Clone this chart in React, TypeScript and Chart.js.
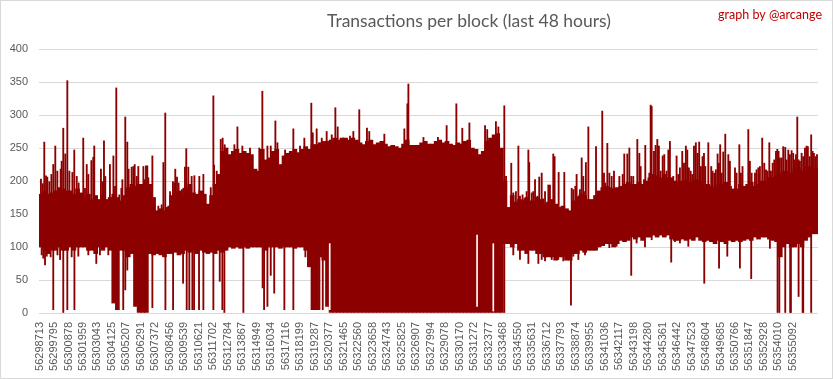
import React, { useEffect, useRef } from 'react';
import { Chart, registerables } from 'chart.js';

Chart.register(...registerables);

const TITLE = 'Transactions per block (last 48 hours)';
const CREDIT = 'graph by @arcange';

const TICK_LABELS = [
  '56298713', '56299795', '56300878', '56301959', '56303043', '56304125', '56305207', '56306291',
  '56307372', '56308456', '56309539', '56310621', '56311702', '56312784', '56313867', '56314949',
  '56316034', '56317116', '56318199', '56319287', '56320377', '56321465', '56322560', '56323658',
  '56324743', '56325825', '56326907', '56327994', '56329078', '56330170', '56331272', '56332377',
  '56333468', '56334550', '56335631', '56336712', '56337793', '56338874', '56339955', '56341036',
  '56342117', '56343198', '56344280', '56345361', '56346442', '56347523', '56348604', '56349685',
  '56350766', '56351847', '56352928', '56354010', '56355092',
];

// Four samples per labelled interval: top and bottom of the dense core of values
const SAMPLES_PER_LABEL = 4;
const BAND_HI = [
  180, 185, 180, 182, 185, 190, 188, 185, 185, 180, 188, 182, 175, 180, 172, 178,
  172, 178, 172, 175, 180, 175, 170, 178, 190, 195, 192, 195, 195, 198, 195, 175,
  155, 158, 155, 160, 178, 182, 185, 178, 190, 195, 182, 180, 185, 180, 165, 178,
  195, 210, 245, 250, 240, 245, 248, 242, 245, 242, 240, 218, 215, 248, 232, 235,
  245, 248, 225, 238, 242, 245, 248, 243, 248, 252, 248, 255, 255, 258, 260, 260,
  262, 265, 262, 265, 265, 262, 265, 262, 258, 255, 260, 262, 255, 258, 260, 256,
  252, 254, 252, 250, 256, 262, 254, 254, 254, 258, 260, 256, 256, 260, 262, 258,
  260, 256, 254, 258, 256, 260, 262, 250, 248, 240, 245, 260, 265, 270, 272, 250,
  200, 160, 178, 168, 172, 170, 175, 170, 170, 175, 172, 165, 168, 172, 165, 160,
  162, 158, 155, 170, 175, 180, 178, 172, 172, 178, 185, 190, 192, 190, 188, 190,
  192, 195, 198, 195, 195, 198, 195, 200, 205, 210, 208, 205, 210, 205, 205, 200,
  198, 200, 200, 198, 200, 202, 198, 192, 195, 192, 190, 195, 195, 198, 192, 188,
  188, 195, 192, 195, 198, 192, 195, 200, 200, 205, 205, 210, 212, 215, 215, 212,
  218, 220, 215, 222, 222, 218, 220,
];
const BAND_LO = [
  100, 95, 90, 95, 95, 100, 95, 95, 100, 95, 100, 100, 100, 95, 95, 90,
  100, 95, 100, 95, 15, 5, 95, 95, 85, 90, 10, 0, 0, 0, 90, 88,
  90, 88, 85, 90, 90, 92, 88, 90, 95, 92, 95, 90, 95, 92, 90, 92,
  90, 95, 92, 95, 100, 98, 100, 98, 100, 98, 100, 100, 100, 100, 95, 100,
  100, 100, 98, 100, 100, 100, 98, 100, 100, 95, 70, 5, 5, 85, 80, 10,
  0, 0, 0, 0, 0, 0, 0, 0, 0, 0, 0, 0, 0, 0, 0, 0,
  0, 0, 0, 0, 0, 0, 0, 0, 0, 0, 0, 0, 0, 0, 0, 0,
  0, 0, 0, 0, 0, 0, 0, 0, 0, 0, 0, 0, 0, 0, 0, 0,
  105, 105, 100, 105, 95, 95, 90, 95, 95, 90, 90, 85, 85, 85, 80, 85,
  85, 80, 80, 90, 90, 95, 92, 95, 95, 95, 100, 102, 105, 105, 100, 105,
  110, 108, 110, 115, 112, 115, 110, 115, 115, 118, 115, 118, 115, 118, 112, 110,
  110, 112, 110, 112, 110, 115, 110, 108, 110, 108, 105, 110, 108, 105, 110, 108,
  110, 108, 110, 112, 110, 115, 112, 115, 115, 112, 110, 108, 85, 100, 105, 100,
  100, 105, 100, 110, 115, 120, 120,
];

// Single blocks above the core: [position in label intervals, transactions]
const PEAKS: [number, number][] = [
  [0.10, 203], [0.22, 196], [0.33, 259], [0.45, 208], [0.54, 206], [0.68, 199], [0.82, 210], [0.95, 225],
  [1.09, 253], [1.23, 215], [1.46, 218], [1.53, 230], [1.64, 280], [1.78, 241], [1.92, 352], [2.06, 215],
  [2.27, 213], [2.40, 247], [2.57, 207], [2.70, 197], [3.02, 265], [3.14, 189], [3.26, 225], [3.37, 210],
  [3.58, 231], [3.71, 236], [3.78, 253], [4.24, 218], [4.36, 199], [4.45, 261], [4.54, 207], [4.86, 225],
  [5.10, 238], [5.21, 192], [5.30, 341], [5.51, 179], [5.65, 189], [5.72, 202], [5.92, 297], [6.06, 259],
  [6.15, 218], [6.36, 221], [6.48, 222], [6.57, 225], [6.71, 207], [6.82, 222], [7.17, 222], [7.28, 202],
  [7.35, 223], [7.44, 223], [7.51, 205], [7.79, 238], [7.90, 168], [8.20, 162], [8.43, 164], [8.55, 228],
  [8.68, 303], [8.89, 162], [9.01, 184], [9.21, 199], [9.31, 197], [9.37, 218], [9.49, 206], [9.60, 197],
  [9.83, 187], [9.93, 189], [10.04, 221], [10.13, 249], [10.27, 221], [10.39, 189], [10.50, 207], [10.62, 177],
  [10.69, 208], [11.03, 207], [11.31, 210], [11.82, 190], [12.00, 329], [12.05, 224], [12.23, 215], [12.51, 263],
  [12.64, 265], [12.78, 255], [13.45, 255], [13.66, 282], [14.00, 253], [14.53, 250], [15.17, 250], [15.38, 336],
  [15.73, 253], [15.96, 253], [16.28, 291], [16.42, 258], [16.95, 247], [17.52, 279], [17.98, 253], [18.28, 265],
  [18.76, 318], [18.86, 273], [19.13, 279], [19.48, 265], [19.82, 275], [20.17, 270], [20.42, 311], [20.58, 282],
  [20.93, 265], [21.43, 268], [21.66, 275], [22.07, 308], [22.60, 280], [22.76, 275], [23.80, 271], [25.18, 279],
  [25.39, 317], [25.46, 347], [26.50, 266], [27.50, 266], [28.10, 284], [28.77, 317], [29.18, 280], [29.67, 288],
  [30.75, 284], [30.90, 278], [31.50, 290], [31.67, 282], [32.08, 314], [32.20, 207], [32.56, 227], [32.70, 182],
  [32.88, 184], [33.05, 253], [33.16, 177], [33.34, 179], [33.46, 173], [33.62, 184], [33.74, 247], [33.80, 228],
  [33.97, 182], [34.08, 184], [34.20, 202], [34.36, 177], [34.49, 206], [34.66, 212], [34.77, 173], [34.89, 184],
  [35.12, 194], [35.23, 194], [35.46, 241], [35.55, 237], [35.83, 213], [36.22, 213], [36.73, 189], [36.84, 187],
  [36.98, 192], [37.07, 210], [37.19, 177], [37.30, 187], [37.42, 235], [37.53, 207], [37.65, 184], [37.71, 228],
  [37.88, 282], [38.41, 252], [38.50, 177], [38.84, 306], [38.96, 212], [39.05, 197], [39.19, 257], [39.33, 212],
  [39.49, 207], [39.65, 215], [39.88, 189], [40.02, 207], [40.25, 210], [40.36, 241], [40.57, 241], [40.71, 250],
  [40.84, 207], [40.98, 207], [41.26, 263], [41.40, 242], [41.49, 222], [41.72, 202], [41.81, 254], [42.09, 212],
  [42.18, 315], [42.25, 313], [42.41, 245], [42.52, 254], [42.64, 263], [42.75, 253], [42.87, 215], [43.01, 238],
  [43.12, 240], [43.28, 215], [43.40, 247], [43.51, 260], [43.74, 207], [43.97, 238], [44.09, 210], [44.20, 220],
  [44.36, 245], [44.48, 227], [44.61, 253], [44.71, 247], [44.82, 220], [44.94, 215], [45.05, 210], [45.17, 253],
  [45.30, 258], [45.42, 242], [45.53, 259], [45.65, 222], [45.76, 237], [45.86, 242], [45.95, 222], [46.16, 258],
  [46.36, 222], [46.45, 215], [46.57, 212], [46.68, 217], [46.80, 241], [46.89, 227], [46.98, 255], [47.08, 212],
  [47.19, 244], [47.33, 271], [47.54, 240], [47.65, 230], [48.00, 220], [48.11, 212], [48.30, 255], [48.41, 212],
  [48.52, 222], [48.92, 278], [49.03, 230], [49.15, 212], [49.38, 212], [49.49, 217], [49.61, 220], [49.72, 222],
  [49.88, 265], [50.02, 227], [50.14, 217], [50.25, 215], [50.37, 258], [50.48, 215], [50.60, 227], [50.71, 232],
  [50.83, 245], [50.92, 248], [51.01, 245], [51.10, 235], [51.22, 235], [51.33, 252], [51.47, 251], [51.56, 232],
  [51.68, 247], [51.79, 240], [51.91, 246], [52.02, 242], [52.11, 232], [52.21, 240], [52.30, 297], [52.39, 232],
  [52.48, 230], [52.60, 242], [52.71, 237], [52.83, 250], [52.94, 253], [53.03, 252], [53.15, 237], [53.26, 270],
  [53.36, 245], [53.45, 242], [53.56, 237], [53.66, 240],
];

// Single blocks below the core: [position in label intervals, transactions]
const DIPS: [number, number][] = [
  [0.15, 88], [0.26, 83], [0.38, 73], [0.50, 86], [0.77, 85], [0.95, 5], [1.24, 88], [1.42, 81],
  [1.64, 0], [1.92, 5], [2.22, 85], [2.41, 5], [2.68, 86], [3.37, 88], [3.92, 75], [4.17, 88],
  [4.75, 88], [5.78, 5], [5.92, 35], [6.06, 65], [7.79, 8], [8.69, 5], [9.22, 5], [9.91, 45],
  [10.16, 5], [10.34, 5], [10.55, 5], [10.67, 5], [11.01, 5], [11.31, 5], [12.00, 5], [12.44, 48],
  [12.62, 5], [12.76, 0], [14.07, 0], [15.40, 38], [15.50, 5], [15.73, 10], [15.96, 57], [16.20, 30],
  [16.90, 5], [17.52, 5], [18.35, 85], [19.32, 5], [19.55, 5], [32.08, 0], [32.70, 88], [33.16, 81],
  [33.74, 75], [34.43, 75], [34.66, 81], [34.89, 79], [35.35, 81], [35.80, 81], [36.15, 79], [36.68, 12],
  [36.84, 86], [37.19, 81], [37.65, 88], [38.45, 96], [39.33, 99], [39.83, 101], [40.84, 57], [41.21, 106],
  [41.79, 100], [42.25, 111], [43.60, 77], [43.86, 108], [44.20, 106], [44.78, 101], [45.88, 45], [46.27, 111],
  [46.90, 68], [47.47, 86], [48.34, 68], [49.12, 52], [50.41, 98], [50.94, 0], [50.97, 88], [51.06, 0],
  [51.10, 88], [51.47, 0], [51.81, 0], [51.86, 0], [52.39, 25], [52.67, 0], [52.71, 0], [53.26, 0],
];

// Narrow empty slivers inside the dense band: [position, from, to]
const GAPS: [number, number, number][] = [
  [20.03, 5, 105], [30.2, 10, 118], [31.32, 3, 105],
];

const RED = '#8c0000';
const MID = 150;

const decor = {
  id: 'decor',
  beforeDraw(chart: any) {
    const { ctx, width, height } = chart;
    ctx.save();
    ctx.fillStyle = '#ffffff';
    ctx.fillRect(0, 0, width, height);
    ctx.restore();
  },
  afterDraw(chart: any) {
    const { ctx, width, height } = chart;
    ctx.save();
    ctx.strokeStyle = '#d9d9d9';
    ctx.lineWidth = 1;
    ctx.strokeRect(0.5, 0.5, width - 1, height - 1);
    ctx.fillStyle = '#595959';
    ctx.font = '17.5px Lato';
    ctx.textAlign = 'center';
    ctx.textBaseline = 'alphabetic';
    ctx.fillText(TITLE, 469, 26.5);
    ctx.fillStyle = '#c00000';
    ctx.font = '12.5px Lato';
    ctx.textAlign = 'right';
    ctx.fillText(CREDIT, 822, 18.5);
    ctx.restore();
  },
};

export default function App() {
  const ref = useRef<HTMLCanvasElement | null>(null);

  useEffect(() => {
    if (!ref.current) return;
    const band = BAND_HI.map((hi, i) => ({ x: (i + 0.5) / SAMPLES_PER_LABEL, y: [BAND_LO[i], hi] }));
    const peaks = PEAKS.map(([p, v]) => ({ x: p, y: [MID, v] }));
    const dips = DIPS.map(([p, v]) => ({ x: p, y: [v, MID] }));
    const gaps = GAPS.map(([p, a, b]) => ({ x: p, y: [a, b] }));

    const chart = new Chart(ref.current, {
      type: 'bar',
      data: {
        datasets: [
          { data: gaps as any, backgroundColor: '#ffffff', barThickness: 1, grouped: false, borderWidth: 0 } as any,
          { data: peaks as any, backgroundColor: RED, barThickness: 1.2, grouped: false, borderWidth: 0 } as any,
          { data: dips as any, backgroundColor: RED, barThickness: 1.2, grouped: false, borderWidth: 0 } as any,
          { data: band as any, backgroundColor: RED, barThickness: 4, grouped: false, borderWidth: 0 } as any,
        ],
      },
      options: {
        animation: false,
        responsive: false,
        devicePixelRatio: 1,
        layout: { padding: { top: 49, right: 15, bottom: 0, left: 0 } },
        plugins: { legend: { display: false }, tooltip: { enabled: false }, title: { display: false } },
        scales: {
          x: {
            type: 'linear',
            min: -0.0345,
            max: 53.73,
            offset: false,
            grid: { display: false, drawTicks: false, offset: false },
            border: { display: false },
            afterBuildTicks: (s: any) => {
              s.ticks = TICK_LABELS.map((_, i) => ({ value: i }));
            },
            afterFit: (s: any) => {
              s.height = 66;
            },
            ticks: {
              autoSkip: false,
              minRotation: 90,
              maxRotation: 90,
              padding: 9,
              color: '#595959',
              font: { family: 'Liberation Sans', size: 11 },
              callback: (_v: any, i: number) => TICK_LABELS[i],
            },
          },
          y: {
            min: 0,
            max: 400,
            grid: { color: '#d9d9d9', drawTicks: false },
            border: { display: false },
            afterFit: (s: any) => {
              s.width = 39;
            },
            ticks: {
              stepSize: 50,
              padding: 11,
              color: '#595959',
              font: { family: 'Liberation Sans', size: 11 },
            },
          },
        },
      } as any,
      plugins: [decor],
    });
    return () => chart.destroy();
  }, []);

  return (
    <div style={{ position: 'absolute', left: 0, top: 0, width: 833, height: 379 }}>
      <canvas ref={ref} width={833} height={379} style={{ display: 'block' }} />
    </div>
  );
}
